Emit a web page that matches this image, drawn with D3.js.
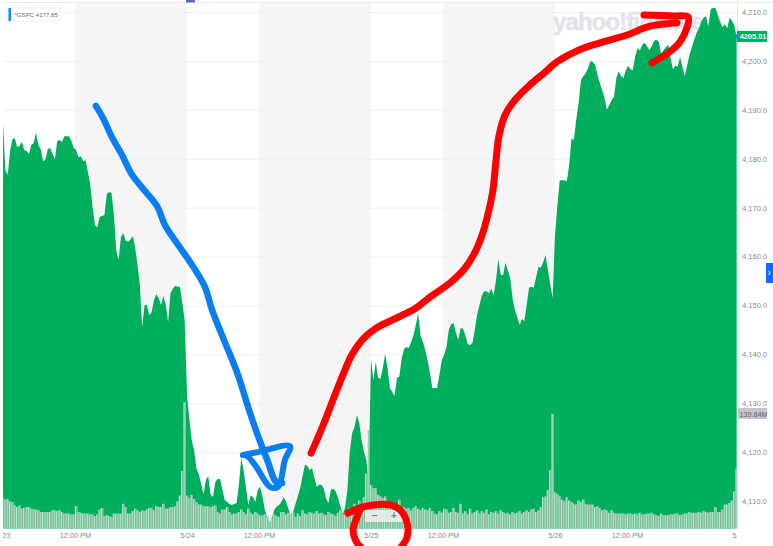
<!DOCTYPE html>
<html><head><meta charset="utf-8">
<script src="https://cdn.jsdelivr.net/npm/d3@7"></script>
<style>html,body{margin:0;padding:0;background:#fff;overflow:hidden}svg{display:block}</style>
</head><body><svg id="c" width="773" height="546"></svg>
<script>
const priceTicks=[4110,4120,4130,4140,4150,4160,4170,4180,4190,4200,4210];
const timeTicks=[0,30.5,78,108.5,156,186.5,234,264.5,312];
const timeLabels=["5/23","12:00 PM","5/24","12:00 PM","5/25","12:00 PM","5/26","12:00 PM","5/27"];
const symbol="^GSPC";
const firstClose="4177.85";
const lastClose="4205.01";
const lastVolume="139.84M";
const closes=[
4187.3,4177.7,4176.7,4181.5,4184.0,4184.2,4182.4,4182.6,4183.4,4181.8,4181.6,4181.0,4182.8,4183.2,4185.3,4182.8,4182.0,4179.5,4179.9,4182.0,4182.2,4181.0,4179.9,4183.6,4183.8,4183.4,4184.6,4184.6,4184.6,4183.6,4182.2,4181.8,4180.3,4180.5,4179.5,4179.7,4177.3,4174.6,4169.9,
4166.4,4166.0,4168.1,4168.3,4168.5,4172.8,4173.2,4173.0,4168.5,4161.3,4159.3,4164.0,4164.8,4163.2,4163.0,4163.4,4164.2,4161.9,4158.3,4154.2,4145.6,4150.1,4150.1,4148.0,4148.6,4151.1,4152.3,4151.5,4150.1,4151.9,4150.1,4146.6,4152.5,4153.4,4154.0,4153.8,4153.8,4150.5,4147.0,
4131.7,4126.6,4122.5,4120.4,4116.7,4115.5,4113.5,4111.4,4114.3,4115.1,4111.4,4110.8,4113.9,4114.5,4114.5,4112.3,4110.2,4109.8,4109.4,4109.2,4109.4,4109.6,4113.3,4118.8,4116.3,4112.7,4109.2,4111.2,4110.8,4109.8,4112.3,4112.9,4110.8,4108.2,4106.5,4105.5,4106.5,4108.2,4108.8,
4109.2,4109.8,4110.8,4109.8,4108.4,4106.9,4107.8,4109.4,4111.0,4112.7,4115.1,4117.4,4117.2,4116.3,4116.8,4114.7,4112.9,4113.3,4113.3,4112.5,4110.4,4109.6,4112.3,4112.5,4112.0,4110.6,4109.0,4107.3,4108.6,4112.3,4120.0,4123.9,4125.1,4127.6,4126.0,4122.5,4120.0,4118.4,4114.7,
4139.0,4134.7,4138.4,4135.2,4135.0,4137.2,4140.1,4137.2,4133.1,4132.3,4131.5,4135.2,4135.4,4139.2,4141.1,4141.5,4141.3,4142.5,4143.9,4146.0,4148.4,4143.9,4142.5,4140.9,4138.8,4136.2,4133.1,4133.1,4133.1,4135.8,4138.8,4139.9,4141.5,4145.0,4146.2,4146.4,4144.4,4142.9,4145.4,
4145.2,4143.9,4142.1,4141.9,4142.3,4145.0,4148.2,4150.1,4152.1,4152.9,4152.9,4152.5,4153.4,4152.1,4155.2,4159.5,4156.2,4156.2,4158.7,4157.2,4155.6,4151.5,4149.1,4147.6,4146.0,4147.2,4146.8,4150.1,4153.6,4153.8,4153.6,4155.8,4157.9,4157.7,4158.9,4160.3,4157.2,4154.2,4151.5,
4164.4,4170.5,4175.6,4175.6,4175.6,4175.4,4178.7,4184.2,4183.8,4187.9,4191.4,4196.1,4196.9,4197.5,4198.5,4200.0,4199.8,4199.2,4197.1,4195.5,4194.0,4192.4,4190.0,4191.0,4192.0,4192.6,4196.5,4197.9,4196.9,4196.5,4198.1,4199.0,4198.3,4198.1,4201.0,4202.6,4202.2,4203.3,4203.7,
4203.0,4202.2,4203.0,4204.1,4204.3,4203.9,4201.4,4202.2,4202.8,4203.3,4200.6,4198.3,4199.0,4198.8,4200.8,4198.8,4196.9,4199.0,4201.2,4202.8,4204.3,4205.7,4206.7,4208.0,4208.8,4209.2,4207.1,4210.6,4210.8,4210.8,4209.4,4208.0,4206.9,4207.5,4206.7,4208.8,4208.2,4207.3,4204.9];
const volumes=[
37,35,36,33,32,28,26,28,24,25,26,26,24,23,23,22,20,20,20,20,20,22,22,21,22,20,18,18,18,17,17,27,20,19,18,18,18,17,17,
15,17,23,25,15,16,15,14,18,18,18,18,30,26,18,18,21,24,22,20,22,21,23,25,25,22,27,26,26,30,24,24,26,26,27,33,40,70,154,
40,37,41,36,32,29,29,27,27,27,26,27,28,20,18,23,23,26,20,17,18,18,20,23,20,17,24,19,17,20,18,16,16,17,14,8,13,17,15,14,20,
20,17,19,18,20,14,18,15,22,18,17,20,19,18,21,18,19,17,16,20,18,17,15,19,22,17,20,21,25,17,30,25,34,28,38,67,120,
53,49,49,41,39,37,39,29,31,25,27,27,35,25,26,24,25,22,25,27,24,22,25,23,22,25,21,18,17,21,19,24,23,19,20,25,20,19,30,18,
21,17,24,18,20,22,18,21,19,23,17,20,19,21,18,22,20,18,19,17,20,18,19,21,18,20,22,20,23,24,20,22,26,38,39,47,71,139.84,
44,42,39,35,33,38,34,32,30,29,34,32,35,30,29,29,29,26,27,25,22,23,22,19,22,19,18,18,18,18,17,18,18,17,18,17,19,17,17,18,
18,19,17,16,15,18,16,16,16,17,17,18,18,16,17,18,18,20,19,19,19,20,19,21,20,19,20,20,26,20,20,23,29,29,31,34,45,73];
// Hand-drawn annotations, as [bar, price]
const blueStroke=[[39.4,4190.8],[42.4,4188.3],[46.2,4184.4],[50.4,4180.8],[54.7,4176.7],[60.2,4173.4],[65.3,4170.3],[68.7,4166.4],[74.2,4162.4],[80.1,4158.3],[85.6,4153.8],[88.6,4149.1],[93.7,4142.9],[99.6,4135.8],[104.3,4128.6],[108.1,4123.3],[112.3,4118.0],[115.7,4113.9],[118.3,4113.7]];
const blueArrow=[[101.7,4119.4],[108.1,4120.0],[121.7,4121.2],[119.5,4118.4],[116.6,4112.9],[113.2,4112.9],[106.8,4117.4],[103.4,4119.2],[101.7,4119.4]];
const redStroke=[[130.6,4119.8],[132.7,4122.1],[135.7,4125.5],[139.9,4130.7],[144.1,4135.8],[147.9,4139.9],[152.2,4142.9],[157.7,4145.2],[164.9,4147.0],[174.6,4149.3],[181.0,4151.7],[189.5,4154.6],[195.8,4157.6],[200.1,4160.9],[203.5,4165.0],[206.0,4169.5],[207.7,4173.6],[209.0,4179.7],[210.3,4184.8],[212.8,4188.9],[217.0,4192.0],[223.4,4195.1],[229.8,4197.7],[234.8,4199.8],[245.9,4202.6],[253.1,4203.7],[264.5,4205.3],[274.3,4207.1],[285.7,4207.8]];
const redHook=[[271.7,4209.4],[284.0,4209.2],[290.4,4209.0],[290.0,4206.9],[287.0,4203.9],[281.9,4201.6],[275.1,4199.6]];
const redCircleTop=[[146.2,4107.5],[151.3,4108.6],[156.8,4109.2],[164.1,4109.2],[168.3,4108.2],[171.3,4105.5],[171.3,4102.6],[169.1,4100.8]];
const redCircleLeft=[[151.3,4108.2],[150.1,4106.7],[148.4,4104.1],[150.1,4101.4],[151.3,4100.8]];

const svg=d3.select("#c");
const x=d3.scaleLinear([0,312],[3,739]);
const y=d3.scaleLinear([4110,4210],[501,12]);
const yBase=4104.4;
const v=d3.scaleLinear([0,139.84],[y(yBase),414]);
const defs=svg.append("defs");
defs.append("clipPath").attr("id","plot").append("rect").attr("x",3).attr("y",0).attr("width",734).attr("height",546);
defs.append("clipPath").attr("id","right").append("rect").attr("x",738).attr("y",0).attr("width",29).attr("height",546);

// session bands
const bands=d3.pairs(timeTicks).filter((d,i)=>i%2==1&&i<7);
svg.append("g").selectAll("rect").data(bands).join("rect")
 .attr("x",d=>x(d[0])).attr("width",d=>x(d[1])-x(d[0])).attr("y",3).attr("height",y(yBase)-3).attr("fill","#f5f5f6");
// frame
svg.append("line").attr("x1",3).attr("x2",773).attr("y1",2.5).attr("y2",2.5).attr("stroke","#e9e9ee");
svg.append("rect").attr("x",186).attr("y",0).attr("width",9).attr("height",2.5).attr("fill","#5c6bb5");
// grid
svg.append("g").selectAll("line").data(priceTicks).join("line")
 .attr("x1",3).attr("x2",737).attr("y1",d=>y(d)+.5).attr("y2",d=>y(d)+.5).attr("stroke","#f0f0f2");
// watermark
svg.append("text").attr("x",553).attr("y",30).text("yahoo!finance")
 .attr("font-family","Liberation Sans").attr("font-weight",700).attr("font-size",24).attr("letter-spacing",-0.9)
 .attr("fill","#e3e4e9").attr("stroke","#e3e4e9").attr("stroke-width",.6);
// area
const area=d3.area().x((d,i)=>x(i)).y0(y(yBase)).y1(d=>y(d));
svg.append("path").attr("d",area(closes)).attr("fill","#00ae5e");
// volume
const step=x(1)-x(0);
const vg=svg.append("g").attr("clip-path","url(#plot)");
vg.selectAll("rect.g").data(volumes).join("rect").attr("class","g")
 .attr("x",(d,i)=>x(i)-step/2).attr("width",step).attr("y",d=>v(d)).attr("height",d=>v(0)-v(d)).attr("fill","#b2f0cd");
vg.selectAll("rect.d").data(volumes).join("rect").attr("class","d")
 .attr("x",(d,i)=>x(i)-step/2+1).attr("width",step-1).attr("y",d=>v(d)).attr("height",d=>v(0)-v(d)).attr("fill","#86b79c");
// right border
svg.append("line").attr("x1",737.5).attr("x2",737.5).attr("y1",3).attr("y2",y(yBase)).attr("stroke","#e6e6e8");
// axes
const ax=svg.append("g").attr("clip-path","url(#plot)");
ax.append("g").attr("transform",`translate(0,${y(yBase)})`)
 .call(d3.axisBottom(x).tickValues(timeTicks).tickFormat((d,i)=>timeLabels[i]).tickSize(0).tickPadding(4))
 .call(g=>g.select(".domain").remove())
 .selectAll("text").attr("font-family","Liberation Sans").attr("font-size",7.4).attr("fill","#868b91");
const ay=svg.append("g").attr("clip-path","url(#right)");
ay.append("g").attr("transform","translate(738,0)")
 .call(d3.axisRight(y).tickValues(priceTicks).tickFormat(d3.format(",.2f")).tickSize(0).tickPadding(4))
 .call(g=>g.select(".domain").remove())
 .selectAll("text").attr("font-family","Liberation Sans").attr("font-size",7.6).attr("fill","#868b91");
// tags
const py=y(+lastClose);
svg.append("rect").attr("x",737).attr("y",py-5.5).attr("width",30).attr("height",11).attr("fill","#00ae5e");
svg.append("text").attr("x",753).attr("y",py+2.8).attr("text-anchor","middle").text(lastClose)
 .attr("font-family","Liberation Sans").attr("font-weight",700).attr("font-size",7.4).attr("fill","#fff");
svg.append("circle").attr("cx",737).attr("cy",py).attr("r",2.2).attr("fill","#0f8be8");
const vy=v(139.84);
svg.append("rect").attr("x",738).attr("y",vy-6).attr("width",29).attr("height",11).attr("fill","#c4c5cc");
svg.append("text").attr("x",739.5).attr("y",vy+2.6).attr("clip-path","url(#right)").text(lastVolume)
 .attr("font-family","Liberation Sans").attr("font-size",7.2).attr("fill","#5e6268");
// legend
svg.append("rect").attr("x",8).attr("y",8).attr("width",52).attr("height",13).attr("fill","#fff").attr("stroke","#f0f0f2");
svg.append("rect").attr("x",8.5).attr("y",8).attr("width",2.5).attr("height",13).attr("fill","#0f8be8");
svg.append("text").attr("x",14).attr("y",17).text(symbol+" "+firstClose)
 .attr("font-family","Liberation Sans").attr("font-size",6.1).attr("fill","#6a6e74");
// side tab
svg.append("rect").attr("x",766).attr("y",263).attr("width",7).attr("height",20).attr("fill","#0f69ff");
svg.append("text").attr("x",767.5).attr("y",276).text("›").attr("font-family","Liberation Sans").attr("font-size",10).attr("fill","#fff");
// zoom control
svg.append("rect").attr("x",365).attr("y",510).attr("width",38).attr("height",12).attr("fill","#eef1ee").attr("fill-opacity",.85);
svg.append("text").attr("x",375).attr("y",518.5).attr("text-anchor","middle").text("−").attr("font-family","Liberation Sans").attr("font-weight",700).attr("font-size",10).attr("fill","#7d8288");
svg.append("text").attr("x",394).attr("y",518.5).attr("text-anchor","middle").text("+").attr("font-family","Liberation Sans").attr("font-weight",700).attr("font-size",10).attr("fill","#7d8288");
// annotations
const ink=d3.line().x(d=>x(d[0])).y(d=>y(d[1])).curve(d3.curveCatmullRom);
const strokes=[[blueStroke,"#0a7df0",6.5],[blueArrow,"#0a7df0",6],[redStroke,"#ff0000",7],[redHook,"#ff0000",7],[redCircleTop,"#ff0000",7],[redCircleLeft,"#ff0000",7]];
svg.append("g").selectAll("path").data(strokes).join("path")
 .attr("d",d=>ink(d[0])).attr("fill","none").attr("stroke",d=>d[1]).attr("stroke-width",d=>d[2])
 .attr("stroke-linecap","round").attr("stroke-linejoin","round");
</script></body></html>
